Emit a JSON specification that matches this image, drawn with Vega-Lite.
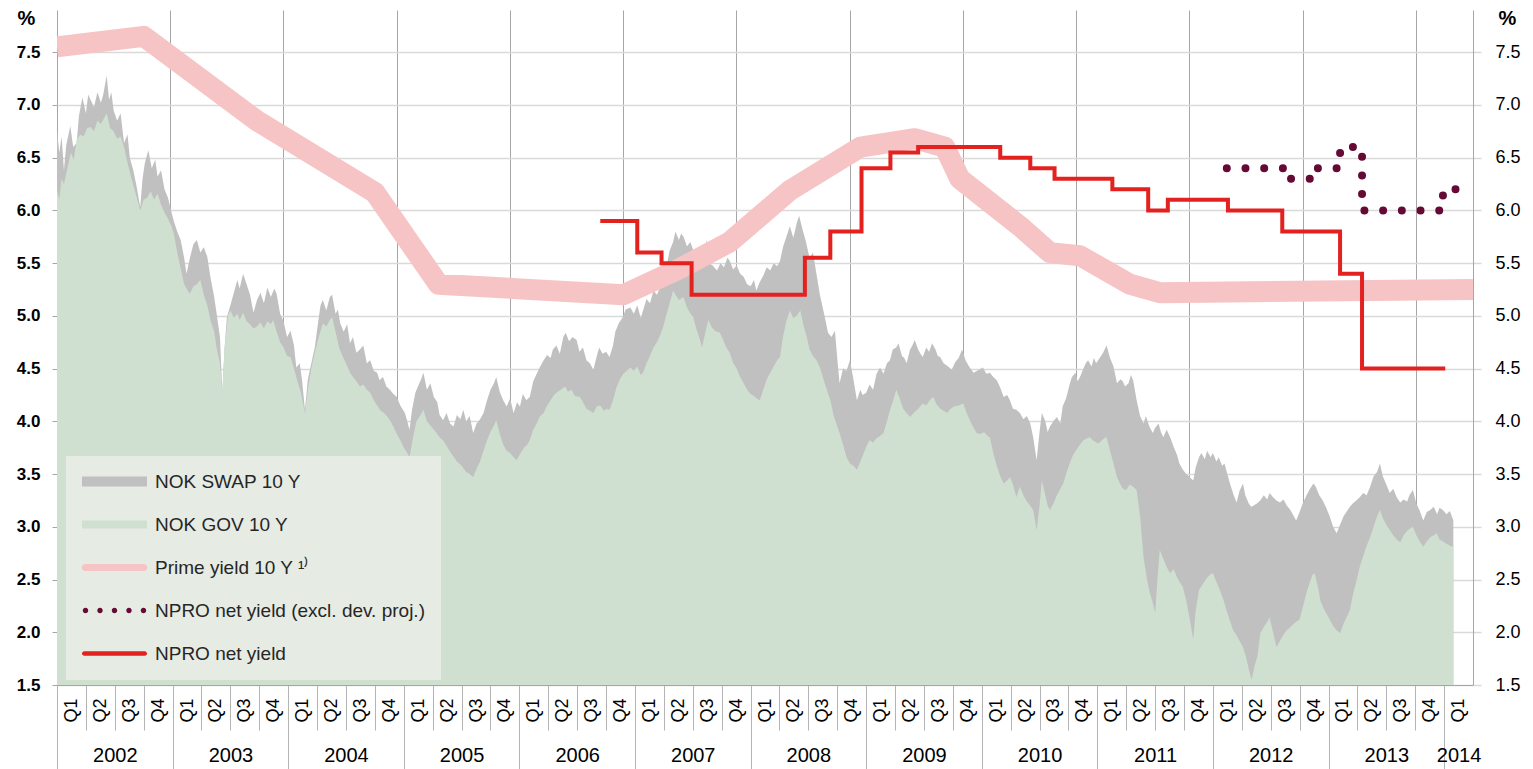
{
  "$schema": "https://vega.github.io/schema/vega-lite/v6.json",
  "autosize": {"type": "none"},
  "padding": {"left": 57, "top": 10, "right": 60, "bottom": 84},
  "width": 1416,
  "height": 675,
  "background": "white",
  "config": {
    "view": {"stroke": null},
    "font": "Liberation Sans",
    "axis": {"labelFont": "Liberation Sans", "titleFont": "Liberation Sans"},
    "legend": {"labelFont": "Liberation Sans"}
  },
  "datasets": {
    "swap": [
      {"t":2002.00,"v":6.76},{"t":2002.02,"v":6.55},{"t":2002.04,"v":6.70},{"t":2002.06,"v":6.38},{"t":2002.08,"v":6.62},{"t":2002.115,"v":6.80},{"t":2002.14,"v":6.60},{"t":2002.17,"v":6.64},{"t":2002.19,"v":6.90},{"t":2002.22,"v":7.07},{"t":2002.25,"v":6.92},{"t":2002.27,"v":7.10},{"t":2002.29,"v":7.05},{"t":2002.32,"v":6.98},{"t":2002.35,"v":7.12},{"t":2002.38,"v":7.02},{"t":2002.40,"v":7.10},{"t":2002.43,"v":7.28},{"t":2002.45,"v":7.05},{"t":2002.47,"v":7.12},{"t":2002.49,"v":6.95},{"t":2002.52,"v":6.85},{"t":2002.55,"v":6.92},{"t":2002.58,"v":6.64},{"t":2002.61,"v":6.72},{"t":2002.63,"v":6.50},{"t":2002.66,"v":6.38},{"t":2002.69,"v":6.22},{"t":2002.72,"v":6.03},{"t":2002.74,"v":6.30},{"t":2002.76,"v":6.45},{"t":2002.79,"v":6.57},{"t":2002.82,"v":6.40},{"t":2002.85,"v":6.48},{"t":2002.87,"v":6.32},{"t":2002.90,"v":6.38},{"t":2002.93,"v":6.20},{"t":2002.96,"v":6.12},{"t":2002.98,"v":6.03},
      {"t":2003.01,"v":5.90},{"t":2003.04,"v":5.80},{"t":2003.07,"v":5.72},{"t":2003.10,"v":5.55},{"t":2003.12,"v":5.40},{"t":2003.15,"v":5.55},{"t":2003.18,"v":5.68},{"t":2003.21,"v":5.72},{"t":2003.24,"v":5.60},{"t":2003.27,"v":5.65},{"t":2003.30,"v":5.56},{"t":2003.33,"v":5.35},{"t":2003.36,"v":5.18},{"t":2003.38,"v":5.03},{"t":2003.41,"v":4.80},{"t":2003.43,"v":4.27},{"t":2003.45,"v":4.70},{"t":2003.47,"v":4.99},{"t":2003.50,"v":5.10},{"t":2003.53,"v":5.22},{"t":2003.56,"v":5.34},{"t":2003.58,"v":5.26},{"t":2003.61,"v":5.40},{"t":2003.64,"v":5.30},{"t":2003.67,"v":5.20},{"t":2003.70,"v":5.03},{"t":2003.73,"v":5.15},{"t":2003.76,"v":5.22},{"t":2003.79,"v":5.12},{"t":2003.82,"v":5.27},{"t":2003.85,"v":5.18},{"t":2003.88,"v":5.26},{"t":2003.90,"v":5.21},{"t":2003.93,"v":5.02},{"t":2003.96,"v":4.95},{"t":2003.99,"v":4.80},
      {"t":2004.02,"v":4.86},{"t":2004.05,"v":4.72},{"t":2004.07,"v":4.51},{"t":2004.10,"v":4.55},{"t":2004.12,"v":4.39},{"t":2004.145,"v":4.11},{"t":2004.17,"v":4.40},{"t":2004.20,"v":4.55},{"t":2004.23,"v":4.70},{"t":2004.26,"v":4.95},{"t":2004.28,"v":5.10},{"t":2004.30,"v":5.15},{"t":2004.33,"v":5.05},{"t":2004.36,"v":5.18},{"t":2004.38,"v":5.20},{"t":2004.41,"v":5.02},{"t":2004.43,"v":5.06},{"t":2004.45,"v":4.93},{"t":2004.48,"v":4.85},{"t":2004.51,"v":4.92},{"t":2004.535,"v":4.74},{"t":2004.56,"v":4.80},{"t":2004.59,"v":4.65},{"t":2004.62,"v":4.68},{"t":2004.65,"v":4.72},{"t":2004.68,"v":4.55},{"t":2004.71,"v":4.58},{"t":2004.74,"v":4.48},{"t":2004.77,"v":4.46},{"t":2004.79,"v":4.39},{"t":2004.82,"v":4.42},{"t":2004.85,"v":4.33},{"t":2004.88,"v":4.30},{"t":2004.91,"v":4.26},{"t":2004.94,"v":4.23},{"t":2004.97,"v":4.15},
      {"t":2005.01,"v":4.08},{"t":2005.03,"v":4.00},{"t":2005.05,"v":3.92},{"t":2005.07,"v":4.10},{"t":2005.10,"v":4.27},{"t":2005.13,"v":4.35},{"t":2005.15,"v":4.40},{"t":2005.17,"v":4.46},{"t":2005.20,"v":4.30},{"t":2005.23,"v":4.36},{"t":2005.26,"v":4.23},{"t":2005.29,"v":4.18},{"t":2005.31,"v":4.06},{"t":2005.34,"v":4.01},{"t":2005.37,"v":4.08},{"t":2005.40,"v":3.98},{"t":2005.43,"v":3.95},{"t":2005.46,"v":4.06},{"t":2005.49,"v":4.02},{"t":2005.515,"v":4.11},{"t":2005.54,"v":4.00},{"t":2005.57,"v":4.05},{"t":2005.60,"v":3.89},{"t":2005.63,"v":3.98},{"t":2005.66,"v":4.02},{"t":2005.69,"v":4.08},{"t":2005.72,"v":4.20},{"t":2005.75,"v":4.30},{"t":2005.78,"v":4.36},{"t":2005.80,"v":4.42},{"t":2005.83,"v":4.28},{"t":2005.86,"v":4.20},{"t":2005.89,"v":4.14},{"t":2005.92,"v":4.22},{"t":2005.95,"v":4.08},{"t":2005.98,"v":4.18},
      {"t":2006.005,"v":4.14},{"t":2006.03,"v":4.26},{"t":2006.06,"v":4.20},{"t":2006.09,"v":4.23},{"t":2006.12,"v":4.38},{"t":2006.15,"v":4.45},{"t":2006.18,"v":4.52},{"t":2006.21,"v":4.58},{"t":2006.24,"v":4.63},{"t":2006.27,"v":4.60},{"t":2006.29,"v":4.68},{"t":2006.32,"v":4.72},{"t":2006.35,"v":4.64},{"t":2006.38,"v":4.80},{"t":2006.40,"v":4.84},{"t":2006.43,"v":4.76},{"t":2006.46,"v":4.80},{"t":2006.495,"v":4.77},{"t":2006.52,"v":4.66},{"t":2006.55,"v":4.70},{"t":2006.58,"v":4.58},{"t":2006.61,"v":4.55},{"t":2006.64,"v":4.49},{"t":2006.67,"v":4.62},{"t":2006.69,"v":4.70},{"t":2006.72,"v":4.64},{"t":2006.75,"v":4.66},{"t":2006.78,"v":4.61},{"t":2006.81,"v":4.72},{"t":2006.83,"v":4.85},{"t":2006.86,"v":4.93},{"t":2006.89,"v":4.98},{"t":2006.92,"v":5.06},{"t":2006.96,"v":5.08},{"t":2006.99,"v":5.02},
      {"t":2007.02,"v":5.10},{"t":2007.05,"v":4.98},{"t":2007.07,"v":5.05},{"t":2007.10,"v":5.16},{"t":2007.13,"v":5.12},{"t":2007.16,"v":5.24},{"t":2007.19,"v":5.20},{"t":2007.22,"v":5.28},{"t":2007.245,"v":5.31},{"t":2007.27,"v":5.45},{"t":2007.30,"v":5.62},{"t":2007.33,"v":5.70},{"t":2007.35,"v":5.80},{"t":2007.38,"v":5.72},{"t":2007.40,"v":5.78},{"t":2007.42,"v":5.75},{"t":2007.45,"v":5.66},{"t":2007.48,"v":5.70},{"t":2007.505,"v":5.62},{"t":2007.53,"v":5.58},{"t":2007.56,"v":5.64},{"t":2007.59,"v":5.56},{"t":2007.62,"v":5.72},{"t":2007.64,"v":5.50},{"t":2007.67,"v":5.48},{"t":2007.71,"v":5.43},{"t":2007.74,"v":5.50},{"t":2007.77,"v":5.46},{"t":2007.80,"v":5.55},{"t":2007.82,"v":5.52},{"t":2007.85,"v":5.44},{"t":2007.88,"v":5.48},{"t":2007.91,"v":5.40},{"t":2007.94,"v":5.37},{"t":2007.97,"v":5.30},
      {"t":2008.00,"v":5.28},{"t":2008.03,"v":5.34},{"t":2008.05,"v":5.24},{"t":2008.08,"v":5.32},{"t":2008.11,"v":5.38},{"t":2008.14,"v":5.46},{"t":2008.17,"v":5.43},{"t":2008.20,"v":5.50},{"t":2008.23,"v":5.47},{"t":2008.255,"v":5.52},{"t":2008.28,"v":5.65},{"t":2008.31,"v":5.75},{"t":2008.34,"v":5.85},{"t":2008.37,"v":5.74},{"t":2008.40,"v":5.88},{"t":2008.42,"v":5.95},{"t":2008.45,"v":5.82},{"t":2008.48,"v":5.70},{"t":2008.51,"v":5.55},{"t":2008.54,"v":5.60},{"t":2008.57,"v":5.40},{"t":2008.60,"v":5.20},{"t":2008.62,"v":5.10},{"t":2008.65,"v":4.95},{"t":2008.67,"v":4.84},{"t":2008.70,"v":4.80},{"t":2008.73,"v":4.86},{"t":2008.75,"v":4.60},{"t":2008.77,"v":4.36},{"t":2008.80,"v":4.50},{"t":2008.83,"v":4.48},{"t":2008.86,"v":4.58},{"t":2008.89,"v":4.40},{"t":2008.92,"v":4.20},{"t":2008.95,"v":4.30},{"t":2008.97,"v":4.25},
      {"t":2009.00,"v":4.27},{"t":2009.03,"v":4.35},{"t":2009.06,"v":4.30},{"t":2009.09,"v":4.45},{"t":2009.12,"v":4.51},{"t":2009.15,"v":4.45},{"t":2009.18,"v":4.55},{"t":2009.206,"v":4.58},{"t":2009.23,"v":4.68},{"t":2009.26,"v":4.70},{"t":2009.28,"v":4.74},{"t":2009.31,"v":4.62},{"t":2009.33,"v":4.60},{"t":2009.35,"v":4.55},{"t":2009.38,"v":4.68},{"t":2009.40,"v":4.72},{"t":2009.42,"v":4.77},{"t":2009.45,"v":4.68},{"t":2009.47,"v":4.64},{"t":2009.49,"v":4.61},{"t":2009.52,"v":4.70},{"t":2009.545,"v":4.66},{"t":2009.57,"v":4.74},{"t":2009.60,"v":4.68},{"t":2009.62,"v":4.62},{"t":2009.64,"v":4.61},{"t":2009.67,"v":4.55},{"t":2009.71,"v":4.52},{"t":2009.74,"v":4.49},{"t":2009.77,"v":4.56},{"t":2009.80,"v":4.60},{"t":2009.83,"v":4.68},{"t":2009.86,"v":4.58},{"t":2009.89,"v":4.52},{"t":2009.93,"v":4.46},{"t":2009.96,"v":4.48},
      {"t":2010.01,"v":4.51},{"t":2010.04,"v":4.45},{"t":2010.07,"v":4.46},{"t":2010.10,"v":4.42},{"t":2010.13,"v":4.39},{"t":2010.16,"v":4.32},{"t":2010.19,"v":4.23},{"t":2010.22,"v":4.25},{"t":2010.244,"v":4.20},{"t":2010.27,"v":4.12},{"t":2010.30,"v":4.11},{"t":2010.33,"v":4.08},{"t":2010.36,"v":4.02},{"t":2010.39,"v":4.05},{"t":2010.42,"v":3.98},{"t":2010.445,"v":3.85},{"t":2010.475,"v":3.63},{"t":2010.50,"v":3.90},{"t":2010.52,"v":4.08},{"t":2010.55,"v":4.00},{"t":2010.57,"v":3.90},{"t":2010.59,"v":3.95},{"t":2010.62,"v":4.00},{"t":2010.65,"v":4.04},{"t":2010.68,"v":3.98},{"t":2010.70,"v":4.14},{"t":2010.73,"v":4.22},{"t":2010.76,"v":4.35},{"t":2010.78,"v":4.42},{"t":2010.81,"v":4.46},{"t":2010.83,"v":4.38},{"t":2010.85,"v":4.42},{"t":2010.88,"v":4.50},{"t":2010.90,"v":4.55},{"t":2010.92,"v":4.58},{"t":2010.95,"v":4.52},{"t":2010.97,"v":4.60},{"t":2010.99,"v":4.55},
      {"t":2011.02,"v":4.60},{"t":2011.05,"v":4.65},{"t":2011.08,"v":4.72},{"t":2011.11,"v":4.60},{"t":2011.14,"v":4.52},{"t":2011.17,"v":4.36},{"t":2011.20,"v":4.40},{"t":2011.22,"v":4.38},{"t":2011.24,"v":4.33},{"t":2011.27,"v":4.36},{"t":2011.29,"v":4.44},{"t":2011.31,"v":4.39},{"t":2011.34,"v":4.20},{"t":2011.37,"v":4.05},{"t":2011.40,"v":3.98},{"t":2011.42,"v":4.05},{"t":2011.45,"v":3.95},{"t":2011.48,"v":3.89},{"t":2011.50,"v":3.94},{"t":2011.53,"v":3.98},{"t":2011.55,"v":3.90},{"t":2011.57,"v":3.85},{"t":2011.60,"v":3.92},{"t":2011.63,"v":3.85},{"t":2011.66,"v":3.76},{"t":2011.69,"v":3.68},{"t":2011.71,"v":3.60},{"t":2011.74,"v":3.54},{"t":2011.77,"v":3.50},{"t":2011.80,"v":3.47},{"t":2011.83,"v":3.44},{"t":2011.85,"v":3.56},{"t":2011.88,"v":3.66},{"t":2011.90,"v":3.70},{"t":2011.93,"v":3.64},{"t":2011.95,"v":3.72},{"t":2011.98,"v":3.66},
      {"t":2012.00,"v":3.70},{"t":2012.03,"v":3.62},{"t":2012.05,"v":3.66},{"t":2012.08,"v":3.58},{"t":2012.10,"v":3.60},{"t":2012.13,"v":3.48},{"t":2012.15,"v":3.40},{"t":2012.18,"v":3.30},{"t":2012.205,"v":3.23},{"t":2012.23,"v":3.34},{"t":2012.26,"v":3.41},{"t":2012.28,"v":3.30},{"t":2012.31,"v":3.22},{"t":2012.33,"v":3.19},{"t":2012.35,"v":3.20},{"t":2012.38,"v":3.22},{"t":2012.41,"v":3.25},{"t":2012.44,"v":3.30},{"t":2012.47,"v":3.26},{"t":2012.49,"v":3.32},{"t":2012.52,"v":3.28},{"t":2012.55,"v":3.25},{"t":2012.58,"v":3.23},{"t":2012.61,"v":3.26},{"t":2012.64,"v":3.20},{"t":2012.67,"v":3.16},{"t":2012.70,"v":3.10},{"t":2012.72,"v":3.06},{"t":2012.75,"v":3.14},{"t":2012.78,"v":3.23},{"t":2012.81,"v":3.30},{"t":2012.84,"v":3.36},{"t":2012.87,"v":3.41},{"t":2012.89,"v":3.38},{"t":2012.92,"v":3.30},{"t":2012.95,"v":3.25},{"t":2012.98,"v":3.18},
      {"t":2013.01,"v":3.10},{"t":2013.04,"v":3.00},{"t":2013.07,"v":2.94},{"t":2013.10,"v":3.02},{"t":2013.13,"v":3.10},{"t":2013.16,"v":3.15},{"t":2013.185,"v":3.19},{"t":2013.21,"v":3.22},{"t":2013.24,"v":3.25},{"t":2013.27,"v":3.28},{"t":2013.30,"v":3.32},{"t":2013.33,"v":3.30},{"t":2013.36,"v":3.38},{"t":2013.39,"v":3.48},{"t":2013.42,"v":3.52},{"t":2013.445,"v":3.60},{"t":2013.47,"v":3.48},{"t":2013.50,"v":3.40},{"t":2013.53,"v":3.32},{"t":2013.56,"v":3.36},{"t":2013.59,"v":3.28},{"t":2013.62,"v":3.23},{"t":2013.65,"v":3.26},{"t":2013.68,"v":3.24},{"t":2013.70,"v":3.30},{"t":2013.73,"v":3.35},{"t":2013.76,"v":3.22},{"t":2013.79,"v":3.15},{"t":2013.82,"v":3.06},{"t":2013.85,"v":3.14},{"t":2013.88,"v":3.16},{"t":2013.91,"v":3.19},{"t":2013.94,"v":3.12},{"t":2013.96,"v":3.18},{"t":2013.99,"v":3.16},{"t":2014.02,"v":3.12},{"t":2014.05,"v":3.15},{"t":2014.08,"v":3.06}
    ],
    "gov": [
      {"t":2002.00,"v":6.19},{"t":2002.02,"v":6.10},{"t":2002.04,"v":6.30},{"t":2002.06,"v":6.25},{"t":2002.09,"v":6.40},{"t":2002.12,"v":6.55},{"t":2002.145,"v":6.48},{"t":2002.17,"v":6.67},{"t":2002.20,"v":6.72},{"t":2002.23,"v":6.70},{"t":2002.26,"v":6.78},{"t":2002.29,"v":6.79},{"t":2002.32,"v":6.75},{"t":2002.35,"v":6.85},{"t":2002.38,"v":6.82},{"t":2002.41,"v":6.88},{"t":2002.43,"v":6.92},{"t":2002.46,"v":6.78},{"t":2002.49,"v":6.75},{"t":2002.52,"v":6.68},{"t":2002.55,"v":6.70},{"t":2002.58,"v":6.60},{"t":2002.61,"v":6.45},{"t":2002.64,"v":6.32},{"t":2002.67,"v":6.20},{"t":2002.70,"v":6.08},{"t":2002.72,"v":6.00},{"t":2002.75,"v":6.10},{"t":2002.78,"v":6.12},{"t":2002.81,"v":6.18},{"t":2002.84,"v":6.10},{"t":2002.87,"v":6.16},{"t":2002.90,"v":6.05},{"t":2002.93,"v":5.98},{"t":2002.96,"v":5.92},{"t":2002.99,"v":5.85},
      {"t":2003.01,"v":5.78},{"t":2003.04,"v":5.60},{"t":2003.07,"v":5.45},{"t":2003.10,"v":5.30},{"t":2003.13,"v":5.24},{"t":2003.15,"v":5.21},{"t":2003.18,"v":5.28},{"t":2003.21,"v":5.30},{"t":2003.24,"v":5.34},{"t":2003.27,"v":5.20},{"t":2003.30,"v":5.10},{"t":2003.33,"v":4.95},{"t":2003.36,"v":4.85},{"t":2003.38,"v":4.70},{"t":2003.41,"v":4.55},{"t":2003.43,"v":4.27},{"t":2003.45,"v":4.70},{"t":2003.48,"v":5.00},{"t":2003.50,"v":5.05},{"t":2003.53,"v":4.98},{"t":2003.56,"v":5.02},{"t":2003.58,"v":4.96},{"t":2003.61,"v":5.03},{"t":2003.64,"v":4.95},{"t":2003.67,"v":4.92},{"t":2003.70,"v":4.88},{"t":2003.73,"v":4.90},{"t":2003.76,"v":4.94},{"t":2003.79,"v":4.88},{"t":2003.82,"v":4.95},{"t":2003.85,"v":4.92},{"t":2003.87,"v":4.96},{"t":2003.90,"v":4.85},{"t":2003.93,"v":4.75},{"t":2003.96,"v":4.70},{"t":2003.99,"v":4.62},
      {"t":2004.02,"v":4.61},{"t":2004.05,"v":4.50},{"t":2004.08,"v":4.38},{"t":2004.11,"v":4.27},{"t":2004.145,"v":4.08},{"t":2004.17,"v":4.30},{"t":2004.20,"v":4.50},{"t":2004.23,"v":4.65},{"t":2004.26,"v":4.78},{"t":2004.30,"v":4.93},{"t":2004.33,"v":4.90},{"t":2004.36,"v":4.96},{"t":2004.38,"v":4.99},{"t":2004.41,"v":4.85},{"t":2004.44,"v":4.70},{"t":2004.47,"v":4.62},{"t":2004.50,"v":4.55},{"t":2004.535,"v":4.46},{"t":2004.56,"v":4.42},{"t":2004.59,"v":4.38},{"t":2004.62,"v":4.33},{"t":2004.65,"v":4.35},{"t":2004.68,"v":4.30},{"t":2004.71,"v":4.27},{"t":2004.74,"v":4.20},{"t":2004.77,"v":4.15},{"t":2004.80,"v":4.10},{"t":2004.83,"v":4.08},{"t":2004.86,"v":4.04},{"t":2004.88,"v":4.01},{"t":2004.91,"v":3.95},{"t":2004.94,"v":3.88},{"t":2004.97,"v":3.82},
      {"t":2005.00,"v":3.75},{"t":2005.03,"v":3.70},{"t":2005.05,"v":3.66},{"t":2005.08,"v":3.85},{"t":2005.11,"v":4.00},{"t":2005.14,"v":4.05},{"t":2005.17,"v":4.11},{"t":2005.20,"v":4.00},{"t":2005.23,"v":3.96},{"t":2005.26,"v":3.92},{"t":2005.29,"v":3.88},{"t":2005.31,"v":3.85},{"t":2005.34,"v":3.82},{"t":2005.38,"v":3.75},{"t":2005.42,"v":3.68},{"t":2005.46,"v":3.62},{"t":2005.50,"v":3.58},{"t":2005.54,"v":3.52},{"t":2005.57,"v":3.50},{"t":2005.60,"v":3.47},{"t":2005.63,"v":3.55},{"t":2005.66,"v":3.62},{"t":2005.69,"v":3.72},{"t":2005.72,"v":3.82},{"t":2005.75,"v":3.90},{"t":2005.78,"v":3.96},{"t":2005.80,"v":4.01},{"t":2005.83,"v":3.88},{"t":2005.86,"v":3.78},{"t":2005.89,"v":3.72},{"t":2005.92,"v":3.70},{"t":2005.95,"v":3.66},{"t":2005.976,"v":3.63},
      {"t":2006.01,"v":3.70},{"t":2006.04,"v":3.75},{"t":2006.07,"v":3.78},{"t":2006.09,"v":3.82},{"t":2006.12,"v":3.92},{"t":2006.15,"v":3.98},{"t":2006.18,"v":4.05},{"t":2006.21,"v":4.08},{"t":2006.24,"v":4.15},{"t":2006.27,"v":4.20},{"t":2006.30,"v":4.25},{"t":2006.33,"v":4.28},{"t":2006.36,"v":4.30},{"t":2006.395,"v":4.33},{"t":2006.42,"v":4.28},{"t":2006.45,"v":4.30},{"t":2006.48,"v":4.24},{"t":2006.525,"v":4.23},{"t":2006.55,"v":4.18},{"t":2006.58,"v":4.12},{"t":2006.61,"v":4.10},{"t":2006.64,"v":4.08},{"t":2006.67,"v":4.14},{"t":2006.70,"v":4.15},{"t":2006.73,"v":4.10},{"t":2006.76,"v":4.12},{"t":2006.78,"v":4.11},{"t":2006.81,"v":4.20},{"t":2006.84,"v":4.32},{"t":2006.87,"v":4.40},{"t":2006.90,"v":4.45},{"t":2006.93,"v":4.48},{"t":2006.96,"v":4.51},{"t":2006.99,"v":4.48},
      {"t":2007.02,"v":4.52},{"t":2007.05,"v":4.44},{"t":2007.07,"v":4.46},{"t":2007.10,"v":4.55},{"t":2007.13,"v":4.62},{"t":2007.16,"v":4.70},{"t":2007.19,"v":4.75},{"t":2007.22,"v":4.82},{"t":2007.245,"v":4.90},{"t":2007.27,"v":5.00},{"t":2007.30,"v":5.12},{"t":2007.33,"v":5.24},{"t":2007.35,"v":5.20},{"t":2007.38,"v":5.15},{"t":2007.42,"v":5.18},{"t":2007.45,"v":5.08},{"t":2007.48,"v":5.02},{"t":2007.505,"v":4.99},{"t":2007.53,"v":4.88},{"t":2007.555,"v":4.80},{"t":2007.58,"v":4.70},{"t":2007.61,"v":4.85},{"t":2007.635,"v":4.96},{"t":2007.66,"v":4.90},{"t":2007.69,"v":4.86},{"t":2007.735,"v":4.84},{"t":2007.76,"v":4.78},{"t":2007.79,"v":4.70},{"t":2007.82,"v":4.65},{"t":2007.85,"v":4.55},{"t":2007.88,"v":4.50},{"t":2007.91,"v":4.42},{"t":2007.94,"v":4.36},{"t":2007.97,"v":4.30},
      {"t":2008.00,"v":4.26},{"t":2008.03,"v":4.24},{"t":2008.05,"v":4.22},{"t":2008.08,"v":4.20},{"t":2008.11,"v":4.30},{"t":2008.14,"v":4.40},{"t":2008.17,"v":4.46},{"t":2008.20,"v":4.52},{"t":2008.23,"v":4.58},{"t":2008.255,"v":4.61},{"t":2008.28,"v":4.80},{"t":2008.31,"v":4.95},{"t":2008.34,"v":5.05},{"t":2008.37,"v":4.98},{"t":2008.40,"v":5.00},{"t":2008.43,"v":5.05},{"t":2008.46,"v":4.90},{"t":2008.49,"v":4.78},{"t":2008.51,"v":4.68},{"t":2008.54,"v":4.62},{"t":2008.57,"v":4.58},{"t":2008.60,"v":4.51},{"t":2008.63,"v":4.40},{"t":2008.66,"v":4.30},{"t":2008.69,"v":4.20},{"t":2008.72,"v":4.05},{"t":2008.75,"v":3.95},{"t":2008.77,"v":3.89},{"t":2008.80,"v":3.78},{"t":2008.83,"v":3.66},{"t":2008.86,"v":3.60},{"t":2008.89,"v":3.58},{"t":2008.92,"v":3.54},{"t":2008.95,"v":3.62},{"t":2008.98,"v":3.70},
      {"t":2009.01,"v":3.78},{"t":2009.03,"v":3.82},{"t":2009.06,"v":3.80},{"t":2009.09,"v":3.84},{"t":2009.12,"v":3.86},{"t":2009.15,"v":3.89},{"t":2009.18,"v":4.00},{"t":2009.21,"v":4.12},{"t":2009.24,"v":4.22},{"t":2009.26,"v":4.30},{"t":2009.29,"v":4.22},{"t":2009.32,"v":4.12},{"t":2009.35,"v":4.08},{"t":2009.38,"v":4.04},{"t":2009.41,"v":4.08},{"t":2009.45,"v":4.12},{"t":2009.49,"v":4.17},{"t":2009.52,"v":4.15},{"t":2009.55,"v":4.20},{"t":2009.58,"v":4.23},{"t":2009.61,"v":4.16},{"t":2009.64,"v":4.12},{"t":2009.67,"v":4.10},{"t":2009.70,"v":4.08},{"t":2009.73,"v":4.12},{"t":2009.76,"v":4.14},{"t":2009.80,"v":4.15},{"t":2009.84,"v":4.17},{"t":2009.87,"v":4.08},{"t":2009.90,"v":4.00},{"t":2009.93,"v":3.94},{"t":2009.955,"v":3.89},{"t":2009.99,"v":3.88},
      {"t":2010.02,"v":3.90},{"t":2010.05,"v":3.86},{"t":2010.07,"v":3.85},{"t":2010.10,"v":3.70},{"t":2010.13,"v":3.58},{"t":2010.16,"v":3.48},{"t":2010.19,"v":3.41},{"t":2010.22,"v":3.44},{"t":2010.244,"v":3.47},{"t":2010.27,"v":3.40},{"t":2010.30,"v":3.28},{"t":2010.33,"v":3.38},{"t":2010.36,"v":3.30},{"t":2010.39,"v":3.24},{"t":2010.42,"v":3.20},{"t":2010.445,"v":3.16},{"t":2010.475,"v":2.97},{"t":2010.50,"v":3.20},{"t":2010.52,"v":3.44},{"t":2010.55,"v":3.30},{"t":2010.57,"v":3.20},{"t":2010.59,"v":3.16},{"t":2010.62,"v":3.22},{"t":2010.65,"v":3.30},{"t":2010.68,"v":3.36},{"t":2010.705,"v":3.41},{"t":2010.73,"v":3.50},{"t":2010.76,"v":3.60},{"t":2010.79,"v":3.68},{"t":2010.82,"v":3.73},{"t":2010.85,"v":3.78},{"t":2010.88,"v":3.82},{"t":2010.91,"v":3.84},{"t":2010.936,"v":3.85},{"t":2010.96,"v":3.82},{"t":2010.99,"v":3.80},
      {"t":2011.01,"v":3.79},{"t":2011.04,"v":3.82},{"t":2011.06,"v":3.84},{"t":2011.08,"v":3.85},{"t":2011.11,"v":3.72},{"t":2011.14,"v":3.60},{"t":2011.17,"v":3.47},{"t":2011.20,"v":3.40},{"t":2011.22,"v":3.36},{"t":2011.25,"v":3.35},{"t":2011.28,"v":3.40},{"t":2011.31,"v":3.38},{"t":2011.34,"v":3.35},{"t":2011.37,"v":3.10},{"t":2011.40,"v":2.71},{"t":2011.43,"v":2.50},{"t":2011.455,"v":2.37},{"t":2011.48,"v":2.28},{"t":2011.50,"v":2.18},{"t":2011.52,"v":2.50},{"t":2011.54,"v":2.78},{"t":2011.57,"v":2.70},{"t":2011.60,"v":2.62},{"t":2011.63,"v":2.56},{"t":2011.66,"v":2.60},{"t":2011.69,"v":2.52},{"t":2011.71,"v":2.48},{"t":2011.74,"v":2.43},{"t":2011.77,"v":2.30},{"t":2011.80,"v":2.12},{"t":2011.83,"v":1.93},{"t":2011.85,"v":2.20},{"t":2011.88,"v":2.40},{"t":2011.92,"v":2.47},{"t":2011.95,"v":2.52},{"t":2011.98,"v":2.55},
      {"t":2012.00,"v":2.56},{"t":2012.03,"v":2.48},{"t":2012.06,"v":2.40},{"t":2012.09,"v":2.31},{"t":2012.12,"v":2.20},{"t":2012.15,"v":2.10},{"t":2012.175,"v":2.02},{"t":2012.20,"v":1.98},{"t":2012.23,"v":1.92},{"t":2012.26,"v":1.86},{"t":2012.29,"v":1.75},{"t":2012.31,"v":1.65},{"t":2012.335,"v":1.55},{"t":2012.36,"v":1.68},{"t":2012.385,"v":1.77},{"t":2012.41,"v":1.99},{"t":2012.44,"v":2.05},{"t":2012.47,"v":2.10},{"t":2012.49,"v":2.14},{"t":2012.52,"v":2.00},{"t":2012.55,"v":1.86},{"t":2012.58,"v":1.92},{"t":2012.61,"v":1.98},{"t":2012.64,"v":2.02},{"t":2012.67,"v":2.05},{"t":2012.70,"v":2.08},{"t":2012.72,"v":2.10},{"t":2012.75,"v":2.12},{"t":2012.78,"v":2.25},{"t":2012.81,"v":2.38},{"t":2012.84,"v":2.48},{"t":2012.86,"v":2.54},{"t":2012.88,"v":2.56},{"t":2012.91,"v":2.42},{"t":2012.93,"v":2.30},{"t":2012.96,"v":2.22},{"t":2012.98,"v":2.18},
      {"t":2013.01,"v":2.12},{"t":2013.04,"v":2.06},{"t":2013.07,"v":2.02},{"t":2013.10,"v":1.99},{"t":2013.13,"v":2.08},{"t":2013.16,"v":2.15},{"t":2013.185,"v":2.21},{"t":2013.21,"v":2.35},{"t":2013.24,"v":2.48},{"t":2013.27,"v":2.62},{"t":2013.30,"v":2.72},{"t":2013.33,"v":2.82},{"t":2013.36,"v":2.90},{"t":2013.39,"v":3.00},{"t":2013.42,"v":3.10},{"t":2013.445,"v":3.16},{"t":2013.47,"v":3.08},{"t":2013.50,"v":3.02},{"t":2013.53,"v":2.97},{"t":2013.56,"v":2.92},{"t":2013.59,"v":2.88},{"t":2013.62,"v":2.85},{"t":2013.65,"v":2.92},{"t":2013.68,"v":2.96},{"t":2013.70,"v":2.98},{"t":2013.73,"v":3.00},{"t":2013.76,"v":2.92},{"t":2013.79,"v":2.86},{"t":2013.82,"v":2.81},{"t":2013.85,"v":2.86},{"t":2013.88,"v":2.90},{"t":2013.91,"v":2.92},{"t":2013.935,"v":2.94},{"t":2013.96,"v":2.88},{"t":2013.99,"v":2.86},{"t":2014.02,"v":2.84},{"t":2014.05,"v":2.82},{"t":2014.08,"v":2.81}
    ],
    "prime": [
      {"t":2002.00,"v":7.55},{"t":2002.75,"v":7.65},{"t":2003.73,"v":6.85},{"t":2004.75,"v":6.17},{"t":2005.30,"v":5.30},{"t":2006.90,"v":5.20},{"t":2007.39,"v":5.45},{"t":2007.82,"v":5.70},{"t":2008.34,"v":6.19},{"t":2008.95,"v":6.60},{"t":2009.42,"v":6.68},{"t":2009.68,"v":6.60},{"t":2009.81,"v":6.30},{"t":2010.33,"v":5.85},{"t":2010.59,"v":5.60},{"t":2010.85,"v":5.57},{"t":2011.28,"v":5.30},{"t":2011.54,"v":5.22},{"t":2014.25,"v":5.25}
    ],
    "npro": [
      {"t":2006.70,"v":5.9},{"t":2007.02,"v":5.6},{"t":2007.23,"v":5.5},{"t":2007.49,"v":5.2},{"t":2008.47,"v":5.55},{"t":2008.69,"v":5.8},{"t":2008.96,"v":6.4},{"t":2009.21,"v":6.55},{"t":2009.45,"v":6.6},{"t":2010.16,"v":6.5},{"t":2010.42,"v":6.4},{"t":2010.63,"v":6.3},{"t":2011.13,"v":6.2},{"t":2011.44,"v":6.0},{"t":2011.61,"v":6.1},{"t":2012.13,"v":6.0},{"t":2012.60,"v":5.8},{"t":2013.10,"v":5.4},{"t":2013.29,"v":4.5},{"t":2014.01,"v":4.5}
    ],
    "nproExcl": [
      {"t":2012.12,"v":6.4},{"t":2012.63,"v":6.3},{"t":2012.89,"v":6.4},{"t":2013.10,"v":6.6},{"t":2013.29,"v":6.0},{"t":2013.99,"v":6.2},{"t":2014.12,"v":6.2}
    ]
  },
  "resolve": {"axis": {"x": "independent", "y": "independent"}},
  "layer": [
    {
      "data": {"name": "swap"},
      "mark": {"type": "area", "clip": true},
      "encoding": {
        "x": {
          "field": "t", "type": "quantitative",
          "scale": {"domain": [2002, 2014.25], "nice": false, "zero": false},
          "axis": {
            "orient": "bottom",
            "title": null, "domain": false, "grid": false, "ticks": false, "tickSize": 0,
            "values": [2002.125,2002.375,2002.625,2002.875,2003.125,2003.375,2003.625,2003.875,2004.125,2004.375,2004.625,2004.875,2005.125,2005.375,2005.625,2005.875,2006.125,2006.375,2006.625,2006.875,2007.125,2007.375,2007.625,2007.875,2008.125,2008.375,2008.625,2008.875,2009.125,2009.375,2009.625,2009.875,2010.125,2010.375,2010.625,2010.875,2011.125,2011.375,2011.625,2011.875,2012.125,2012.375,2012.625,2012.875,2013.125,2013.375,2013.625,2013.875,2014.125],
            "labelExpr": "'Q' + (floor((datum.value - floor(datum.value)) * 4) + 1)",
            "labelAngle": 270, "labelAlign": "right", "labelBaseline": "middle",
            "labelPadding": 13, "labelFontSize": 18, "labelColor": "#000000",
            "labelOverlap": false, "labelFlush": false, "labelBound": false
          }
        },
        "y": {
          "field": "v", "type": "quantitative",
          "scale": {"domain": [1.5, 7.9], "nice": false, "zero": false},
          "axis": {
            "orient": "left",
            "values": [1.5,2,2.5,3,3.5,4,4.5,5,5.5,6,6.5,7,7.5],
            "format": ".1f",
            "grid": true, "gridColor": "#d9d9d9", "gridWidth": 1.5,
            "domain": false, "ticks": true, "tickSize": 5, "tickColor": "#a6a6a6",
            "labelFontSize": 17, "labelFontWeight": "bold", "labelColor": "#000000", "labelPadding": 12,
            "labelFlush": false, "labelOverlap": false,
            "title": "%", "titleAngle": 0, "titleX": -31, "titleY": 8,
            "titleAlign": "center", "titleBaseline": "middle",
            "titleFontSize": 20, "titleFontWeight": "bold", "titleColor": "#000000"
          }
        },
        "y2": {"datum": 1.5},
        "color": {
          "datum": "NOK SWAP 10 Y", "type": "nominal",
          "scale": {
            "domain": ["NOK SWAP 10 Y", "NOK GOV 10 Y", "Prime yield 10 Y ¹⁾", "NPRO net yield (excl. dev. proj.)", "NPRO net yield"],
            "range": ["#c0c0c0", "#cfe0d0", "#f6c4c4", "#650a35", "#e3211f"]
          },
          "legend": {
            "orient": "none", "legendX": 9, "legendY": 446,
            "title": null,
            "fillColor": "#e6ebe4",
            "padding": 16,
            "symbolType": "M-5,-0.77H5V0.77H-5Z",
            "symbolSize": 169,
            "symbolOffset": 23,
            "symbolStrokeWidth": 0,
            "labelOffset": 31,
            "rowPadding": 23,
            "labelFontSize": 19,
            "labelColor": "#262626",
            "labelLimit": 400,
            "encode": {
              "symbols": {
                "update": {
                  "fill": {"signal": "scale('color', datum.value)"},
                  "stroke": {"value": "transparent"},
                  "strokeWidth": {"value": 0},
                  "opacity": {"value": 1},
                  "size": {"value": 169},
                  "shape": {"signal": "datum.value === 'NOK SWAP 10 Y' ? 'M-5,-0.77H5V0.77H-5Z' : datum.value === 'NOK GOV 10 Y' ? 'M-5,-0.62H5V0.62H-5Z' : datum.value === 'NPRO net yield (excl. dev. proj.)' ? 'M-4.88,0A0.42,0.42 0 1 0 -4.04,0A0.42,0.42 0 1 0 -4.88,0ZM-2.65,0A0.42,0.42 0 1 0 -1.81,0A0.42,0.42 0 1 0 -2.65,0ZM-0.42,0A0.42,0.42 0 1 0 0.42,0A0.42,0.42 0 1 0 -0.42,0ZM1.81,0A0.42,0.42 0 1 0 2.65,0A0.42,0.42 0 1 0 1.81,0ZM4.04,0A0.42,0.42 0 1 0 4.88,0A0.42,0.42 0 1 0 4.04,0Z' : datum.value === 'NPRO net yield' ? 'M-4.65,-0.35H4.65A0.35,0.35 0 0 1 4.65,0.35H-4.65A0.35,0.35 0 0 1 -4.65,-0.35Z' : 'M-4.5,-0.54H4.5A0.54,0.54 0 0 1 4.5,0.54H-4.5A0.54,0.54 0 0 1 -4.5,-0.54Z'"}
                }
              }
            }
          }
        }
      }
    },
    {
      "data": {"name": "gov"},
      "mark": {"type": "area", "clip": true},
      "encoding": {
        "x": {
          "field": "t", "type": "quantitative",
          "axis": {
            "orient": "bottom",
            "title": null, "domain": false, "grid": false, "labels": false,
            "ticks": true, "tickSize": 45, "tickColor": "#b4b4b4", "tickWidth": 1,
            "values": [2002,2002.25,2002.5,2002.75,2003,2003.25,2003.5,2003.75,2004,2004.25,2004.5,2004.75,2005,2005.25,2005.5,2005.75,2006,2006.25,2006.5,2006.75,2007,2007.25,2007.5,2007.75,2008,2008.25,2008.5,2008.75,2009,2009.25,2009.5,2009.75,2010,2010.25,2010.5,2010.75,2011,2011.25,2011.5,2011.75,2012,2012.25,2012.5,2012.75,2013,2013.25,2013.5,2013.75,2014]
          }
        },
        "y": {
          "field": "v", "type": "quantitative",
          "axis": {
            "orient": "right",
            "values": [1.5,2,2.5,3,3.5,4,4.5,5,5.5,6,6.5,7,7.5],
            "format": ".1f",
            "grid": false,
            "domain": true, "domainColor": "#a6a6a6", "domainWidth": 1,
            "ticks": true, "tickSize": 8, "tickColor": "#d9d9d9", "tickWidth": 1.5,
            "labelFontSize": 18, "labelColor": "#000000", "labelPadding": 14,
            "labelFlush": false, "labelOverlap": false,
            "title": "%", "titleAngle": 0, "titleX": 34, "titleY": 8,
            "titleAlign": "center", "titleBaseline": "middle",
            "titleFontSize": 20, "titleFontWeight": "bold", "titleColor": "#000000"
          }
        },
        "y2": {"datum": 1.5},
        "color": {"datum": "NOK GOV 10 Y", "type": "nominal"}
      }
    },
    {
      "data": {"name": "prime"},
      "mark": {"type": "line", "strokeWidth": 21, "strokeJoin": "round", "strokeCap": "butt", "clip": true},
      "encoding": {
        "x": {
          "field": "t", "type": "quantitative",
          "axis": {
            "orient": "bottom",
            "title": null, "domain": true, "domainColor": "#a6a6a6", "grid": false, "labels": false,
            "ticks": true, "tickSize": 84, "tickColor": "#b4b4b4", "tickWidth": 1,
            "values": [2002,2003,2004,2005,2006,2007,2008,2009,2010,2011,2012,2013,2014]
          }
        },
        "y": {"field": "v", "type": "quantitative", "axis": null},
        "color": {"datum": "Prime yield 10 Y ¹⁾", "type": "nominal"}
      }
    },
    {
      "data": {"name": "npro"},
      "mark": {"type": "line", "interpolate": "step-after", "strokeWidth": 4, "strokeJoin": "miter", "strokeCap": "butt", "clip": true},
      "encoding": {
        "x": {
          "field": "t", "type": "quantitative",
          "axis": {
            "orient": "bottom",
            "title": null, "domain": false, "grid": false, "ticks": false, "tickSize": 0,
            "values": [2002.5,2003.5,2004.5,2005.5,2006.5,2007.5,2008.5,2009.5,2010.5,2011.5,2012.5,2013.5,2014.125],
            "labelExpr": "floor(datum.value)",
            "labelAngle": 0, "labelAlign": "center", "labelBaseline": "top",
            "labelPadding": 60, "labelFontSize": 20, "labelColor": "#000000",
            "labelOverlap": false, "labelFlush": false, "labelBound": false
          }
        },
        "y": {"field": "v", "type": "quantitative", "axis": null},
        "color": {"datum": "NPRO net yield", "type": "nominal"}
      }
    },
    {
      "data": {"name": "nproExcl"},
      "mark": {"type": "line", "interpolate": "step-after", "strokeWidth": 8, "strokeCap": "round", "strokeDash": [0, 18.7], "clip": true},
      "encoding": {
        "x": {
          "field": "t", "type": "quantitative",
          "axis": {
            "orient": "bottom",
            "title": null, "domain": false, "labels": false, "ticks": false,
            "grid": true, "gridColor": "#a6a6a6", "gridWidth": 1,
            "values": [2002,2002.98,2003.959,2004.939,2005.919,2006.898,2007.878,2008.858,2009.837,2010.817,2011.797,2012.776,2013.756]
          }
        },
        "y": {"field": "v", "type": "quantitative", "axis": null},
        "color": {"datum": "NPRO net yield (excl. dev. proj.)", "type": "nominal"}
      }
    }
  ]
}
